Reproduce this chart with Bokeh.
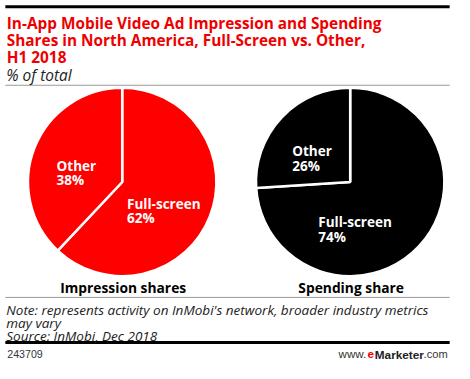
from bokeh.plotting import figure
from bokeh.models import Range1d
from bokeh.core.properties import value
from bokeh.embed import file_html
from bokeh.resources import INLINE
import math

# ---------------- data ----------------
pie_titles = ["Impression shares", "Spending share"]
segments = ["Full-screen", "Other"]
impression_shares = [62, 38]
spending_shares = [74, 26]
pie_colors = ["#fe0000", "#000000"]

title_lines = ["In-App Mobile Video Ad Impression and Spending",
               "Shares in North America, Full-Screen vs. Other,",
               "H1 2018"]
subtitle = "% of total"
notes = ["Note: represents activity on InMobi's network, broader industry metrics",
         "may vary",
         "Source: InMobi, Dec 2018"]
chart_id = "243709"
site_parts = ["www.", "e", "Marketer", ".com"]

# ---------------- layout (reference pixel space, scaled into the figure) ----------------
W, H = 470, 379
FW, FH = 454, 363
S = FW / W  # font scale
DY = 2.0    # baseline correction for text rendering


def Y(y):
    return H - y


def TY(y):
    return H - (y - DY)


def fs(px):
    return f"{px * S:.2f}px"


p = figure(width=FW, height=FH, output_backend="svg", toolbar_location=None,
           x_range=Range1d(0, W), y_range=Range1d(0, H), min_border=0)
p.axis.visible = False
p.grid.visible = False
p.outline_line_color = None
p.background_fill_color = "white"
p.border_fill_color = "white"

RED = "#ee0000"
TF = value("Open Sans")

# rules
p.segment(x0=[5], y0=[Y(6.5)], x1=[465], y1=[Y(6.5)], line_color="black", line_width=3)
p.segment(x0=[5], y0=[Y(88.5)], x1=[465], y1=[Y(88.5)], line_color="#999999", line_width=1)
p.segment(x0=[5], y0=[Y(310)], x1=[465], y1=[Y(310)], line_color="#999999", line_width=1)
p.segment(x0=[5], y0=[Y(357)], x1=[465], y1=[Y(357)], line_color="black", line_width=3)

# title
tb = [26.5, 44, 61.5]
p.text(x=[6.5] * 3, y=[TY(b) for b in tb], text=title_lines, text_font=TF,
       text_font_style="bold", text_font_size=fs(15.9), text_color=RED,
       text_baseline="alphabetic")
p.text(x=[6], y=[TY(79.5)], text=[subtitle], text_font=TF, text_font_style="italic",
       text_font_size=fs(16), text_color="#222222", text_baseline="alphabetic")

# pies
centers = [(126, 189.5), (362, 189.5)]
R = 97.5
series = [impression_shares, spending_shares]
for (cx, cy), vals, col in zip(centers, series, pie_colors):
    total = float(sum(vals))
    start = math.pi / 2
    for v in vals:
        end = start - 2 * math.pi * v / total
        p.wedge(x=[cx], y=[Y(cy)], radius=R, start_angle=[start], end_angle=[end],
                direction="clock", fill_color=col, line_color="white", line_width=2.5)
        start = end

# slice labels (segment name, value)
label_pos = [
    [(131, 214, 229), (58, 175, 189.5)],
    [(329, 233.5, 248.5), (302, 159.5, 174.5)],
]
for vals, poss in zip(series, label_pos):
    for name, v, (lx, b1, b2) in zip(segments, vals, poss):
        p.text(x=[lx, lx], y=[TY(b1), TY(b2)], text=[name, f"{v}%"], text_font=TF,
               text_font_style="bold", text_font_size=fs(14), text_color="white",
               text_baseline="alphabetic")

# pie titles
for (cx, cy), t in zip(centers, pie_titles):
    p.text(x=[cx + 1], y=[TY(302)], text=[t], text_font=TF, text_font_style="bold",
           text_font_size=fs(14.3), text_color="black", text_align="center",
           text_baseline="alphabetic")

# notes
nb = [325, 338.5, 352]
p.text(x=[6] * 3, y=[TY(b) for b in nb], text=notes, text_font=TF,
       text_font_style="italic", text_font_size=fs(14), text_color="#222222",
       text_baseline="alphabetic")

# footer
FB = 371.5
p.text(x=[7], y=[TY(FB)], text=[chart_id], text_font=value("Liberation Sans"),
       text_font_size=fs(11), text_color="#333333", text_baseline="alphabetic")
site_x = [350, 380, 387.5, 438]
site_bold = ["normal", "bold", "bold", "normal"]
site_col = ["#333333", RED, "#222222", "#333333"]
site_size = [12, 12.2, 12.2, 11.5]
for t, sx, b, c, sz in zip(site_parts, site_x, site_bold, site_col, site_size):
    p.text(x=[sx], y=[TY(FB)], text=[t], text_font=value("Liberation Sans"),
           text_font_style=b, text_font_size=fs(sz), text_color=c,
           text_baseline="alphabetic")

open("out.html", "w").write(file_html(p, INLINE))
